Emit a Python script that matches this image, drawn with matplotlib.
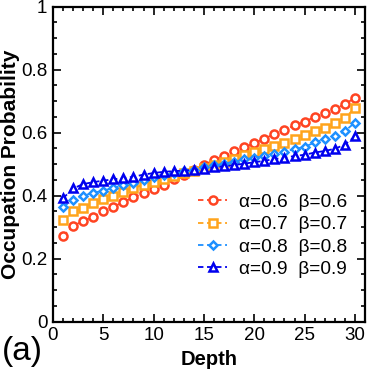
import numpy as np
import matplotlib
matplotlib.use("Agg")
import matplotlib.pyplot as plt
from matplotlib.ticker import MultipleLocator

depth = list(range(1, 31))

p06 = [0.272, 0.304, 0.320, 0.333, 0.352, 0.365, 0.380, 0.395, 0.408, 0.420,
       0.435, 0.452, 0.467, 0.483, 0.498, 0.513, 0.527, 0.541, 0.554, 0.567,
       0.581, 0.596, 0.609, 0.623, 0.635, 0.650, 0.661, 0.676, 0.690, 0.711]
p07 = [0.324, 0.350, 0.362, 0.376, 0.389, 0.398, 0.413, 0.424, 0.435, 0.445,
       0.454, 0.463, 0.471, 0.480, 0.489, 0.497, 0.507, 0.518, 0.530, 0.540,
       0.547, 0.558, 0.568, 0.581, 0.592, 0.604, 0.616, 0.630, 0.646, 0.679]
p08 = [0.365, 0.386, 0.400, 0.409, 0.416, 0.425, 0.434, 0.441, 0.451, 0.459,
       0.466, 0.471, 0.477, 0.483, 0.490, 0.496, 0.502, 0.508, 0.515, 0.520,
       0.526, 0.534, 0.540, 0.548, 0.555, 0.569, 0.580, 0.590, 0.605, 0.632]
p09 = [0.392, 0.423, 0.437, 0.443, 0.448, 0.452, 0.456, 0.460, 0.467, 0.472,
       0.476, 0.478, 0.480, 0.482, 0.484, 0.490, 0.493, 0.497, 0.502, 0.506,
       0.511, 0.516, 0.521, 0.526, 0.530, 0.537, 0.542, 0.549, 0.562, 0.588]

labels = ["α=0.6  β=0.6", "α=0.7  β=0.7", "α=0.8  β=0.8", "α=0.9  β=0.9"]
colors = ["#FF4422", "#FFA41C", "#1E90FF", "#0000EE"]
markers = ["o", "s", "D", "^"]
msizes = [5.8, 5.5, 4.5, 6.0]

plt.rcParams['font.family'] = ['Liberation Sans', 'DejaVu Sans']

fig = plt.figure(figsize=(3.69, 3.73), dpi=100)
ax = fig.add_axes([0.1436, 0.1375, 0.8454, 0.8445])

for ys, lab, c, m, ms in zip([p06, p07, p08, p09], labels, colors, markers, msizes):
    ax.plot(depth, ys, linestyle=(0, (3, 2)), color=c, lw=1.3, marker=m,
            markersize=ms, markerfacecolor='white', markeredgecolor=c,
            markeredgewidth=1.8, label=lab)

ax.set_xlim(0, 31)
ax.set_ylim(0, 1)
ax.xaxis.set_major_locator(MultipleLocator(5))
ax.xaxis.set_minor_locator(MultipleLocator(1))
ax.yaxis.set_minor_locator(MultipleLocator(0.05))
ax.set_yticks([0, 0.2, 0.4, 0.6, 0.8, 1.0])
ax.set_yticklabels(["0", "0.2", "0.4", "0.6", "0.8", "1"])
ax.tick_params(which='both', direction='in', top=True, right=True, width=1.2)
ax.tick_params(which='major', length=6, labelsize=13.5, pad=4)
ax.tick_params(which='minor', length=3)
for s in ax.spines.values():
    s.set_linewidth(1.6)

ax.set_xlabel("Depth", fontsize=14.5, fontweight='bold', labelpad=4)
ax.set_ylabel("Occupation Probability", fontsize=15, fontweight='bold', labelpad=1)

ax.legend(loc='lower right', frameon=False, fontsize=13.8, handlelength=1.5,
          handletextpad=0.6, labelspacing=0.25, borderaxespad=0.3,
          bbox_to_anchor=(0.985, 0.097))

fig.text(0.005, 0.035, "(a)", fontsize=24)

fig.savefig("out.png", dpi=100)
